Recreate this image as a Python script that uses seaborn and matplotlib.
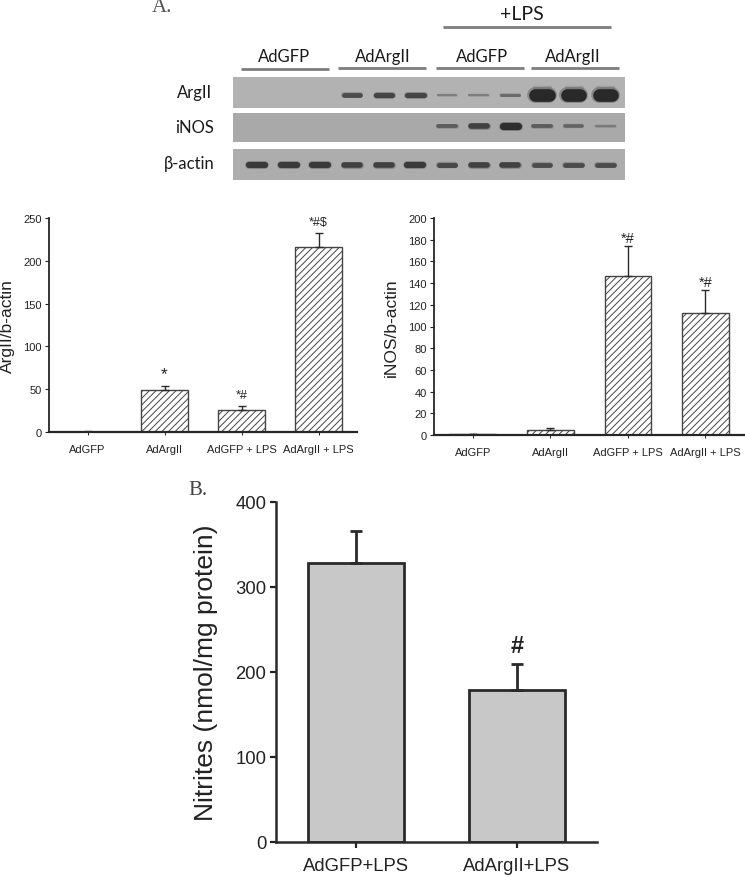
import pandas as pd
import seaborn as sns
import matplotlib
matplotlib.use('Agg')
import matplotlib.pyplot as plt

# bar data
groups_a = ['AdGFP', 'AdArgII', 'AdGFP + LPS', 'AdArgII + LPS']
argii_vals = [0.5, 49, 26, 216]
argii_err = [0.8, 4.5, 4, 17]
argii_marks = ['', '*', '*#', '*#$']
inos_vals = [1, 5, 147, 112.5]
inos_err = [0.3, 1, 27, 21]
inos_marks = ['', '', '*#', '*#']

groups_b = ['AdGFP+LPS', 'AdArgII+LPS']
nitrite_vals = [328, 179]
nitrite_err = [38, 31]
nitrite_marks = ['', '#']

# blot band strength per lane, 0 = no band
lanes = list(range(12))
blot_argii = [0, 0, 0, 0.56, 0.6, 0.6, 0.3, 0.3, 0.4, 1, 1, 1]
blot_inos = [0, 0, 0, 0, 0, 0, 0.48, 0.62, 0.72, 0.48, 0.45, 0.32]
blot_actin = [0.66, 0.66, 0.66, 0.62, 0.62, 0.66, 0.58, 0.62, 0.62, 0.56, 0.56, 0.56]

sns.set_style('ticks')
plt.rcParams['font.family'] = ['Liberation Sans', 'DejaVu Sans']
plt.rcParams['hatch.linewidth'] = 0.7

W, H = 745, 878
fig = plt.figure(figsize=(W / 100, H / 100), dpi=100)


def px_axes(left, top, right, bottom):
    return fig.add_axes([left / W, 1 - bottom / H, (right - left) / W, (bottom - top) / H])


def bar_panel(ax, groups, vals, err, marks, ylim, yticks, ylabel, label_x, fill, edge, lw, hatch,
              cap, tick_size, label_size, mark_size, mark_off, mark_weight='normal'):
    df = pd.DataFrame({'group': groups, 'value': vals})
    sns.barplot(data=df, x='group', y='value', ax=ax, width=0.6, color=fill, saturation=1,
                edgecolor=edge, linewidth=lw, hatch=hatch, errorbar=None)
    ax.errorbar(range(len(vals)), vals, yerr=[[0] * len(vals), err], fmt='none', ecolor='#2a2a2a',
                elinewidth=lw, capsize=cap, capthick=lw, zorder=5)
    for i, m in enumerate(marks):
        if m:
            size = mark_size * 1.4 if m == '*' else mark_size
            ax.annotate(m, (i, vals[i] + err[i]), xytext=(0, mark_off), textcoords='offset points',
                        ha='center', va='bottom', fontsize=size, color='#222222', fontweight=mark_weight)
    # errorbar autoscale moves the category limits
    ax.set_xlim(-0.5, len(vals) - 0.5)
    ax.set_ylim(*ylim)
    ax.set_yticks(yticks)
    ax.set_xlabel('')
    ax.set_ylabel(ylabel, fontsize=label_size, color='#222222')
    ax.yaxis.set_label_coords(label_x, 0.5)
    ax.tick_params(axis='both', labelsize=tick_size, labelcolor='#222222', color='#222222')
    sns.despine(ax=ax)


ax1 = px_axes(49, 219, 357, 433)
bar_panel(ax1, groups_a, argii_vals, argii_err, argii_marks, (0, 250), range(0, 251, 50), 'ArgII/b-actin',
          -0.11, 'white', '#444444', 1.0, '/////', 3.2, 8, 12.5, 9, 3.5)
ax2 = px_axes(434, 219, 744, 436)
bar_panel(ax2, groups_a, inos_vals, inos_err, inos_marks, (0, 200), range(0, 201, 20), 'iNOS/b-actin',
          -0.113, 'white', '#444444', 1.0, '/////', 3.2, 8, 12.5, 10.5, 1)
ax3 = px_axes(276, 503, 597, 843)
bar_panel(ax3, groups_b, nitrite_vals, nitrite_err, nitrite_marks, (0, 400), range(0, 401, 100),
          'Nitrites (nmol/mg protein)', -0.18, '#c8c8c8', '#2a2a2a', 2.0, None, 4.5, 13.3, 19, 17, 5, 'bold')

for ax in (ax1, ax2):
    ax.spines['left'].set_linewidth(1.3)
    ax.spines['bottom'].set_linewidth(1.6)
    ax.tick_params(axis='y', length=3, width=0.8, pad=2)
    ax.tick_params(axis='x', length=2.5, width=0.7, pad=6)
ax3.spines['left'].set_linewidth(1.8)
ax3.spines['bottom'].set_linewidth(1.8)
ax3.tick_params(axis='y', length=4, width=1.6, pad=3)
ax3.tick_params(axis='x', length=4, width=1.6, pad=7)
ax3.spines['left'].set_color('#2a2a2a')
ax3.spines['bottom'].set_color('#2a2a2a')


# blot strips, bands are drawn on a lane axis
def blot_strip(top, bottom, strength, bg, offset):
    ax = px_axes(233, top, 625, bottom)
    ax.set_facecolor(bg)
    ax.set_xlim(-0.76, 11.62)
    ax.set_ylim(-(bottom - top) / 2, (bottom - top) / 2)
    ax.set_xticks([])
    ax.set_yticks([])
    sns.despine(ax=ax, left=True, bottom=True)
    for lane, s in zip(lanes, strength):
        if s == 0:
            continue
        thick = (1.2 + 11.5 * s ** 2) * 0.72
        half = 0.33 - 0.12 * s
        grey = max(0.72 - 0.75 * s, 0.16)
        if s > 0.9:
            ax.plot([lane - 0.25, lane + 0.25], [offset + 8] * 2, color='#8c8c8c', lw=2.5, alpha=0.5,
                    solid_capstyle='round')
        for scale, alpha in ((1.25, 0.3), (1.0, 1.0)):
            ax.plot([lane - half, lane + half], [offset] * 2, color=str(grey), lw=thick * scale,
                    alpha=alpha, solid_capstyle='round')


blot_strip(78, 109, blot_argii, '#b2b2b2', -2.5)
blot_strip(114, 143, blot_inos, '#a9a9a9', 1.5)
blot_strip(150, 181, blot_actin, '#adadad', 0)

# labels and group lines sit on a pixel overlay
over = fig.add_axes([0, 0, 1, 1], facecolor='none')
over.set_xlim(0, W)
over.set_ylim(H, 0)
over.axis('off')
for x0, x1, y in [(241, 329, 70), (338, 426, 69), (436, 524, 69), (531, 619, 69), (443, 611, 28)]:
    over.plot([x0, x1], [y, y], color='#7d7d7d', lw=2.0, solid_capstyle='butt')
blot_font = ['Lato', 'DejaVu Sans']
for x, y, s, size in [(284, 57, 'AdGFP', 12), (383, 57, 'AdArgII', 12), (482, 57, 'AdGFP', 12),
                      (573, 57, 'AdArgII', 12), (522, 14, '+LPS', 14), (195, 93, 'ArgII', 12),
                      (195, 128, 'iNOS', 12), (189, 164, 'β-actin', 12)]:
    over.text(x, y, s, ha='center', va='center', fontsize=size, family=blot_font, color='#1a1a1a')
over.text(162, 8, 'A.', ha='center', va='center', fontsize=15, family='Liberation Serif', color='#555555')
over.text(198, 491, 'B.', ha='center', va='center', fontsize=15, family='Liberation Serif', color='#444444')

fig.savefig('out.png', dpi=100)
